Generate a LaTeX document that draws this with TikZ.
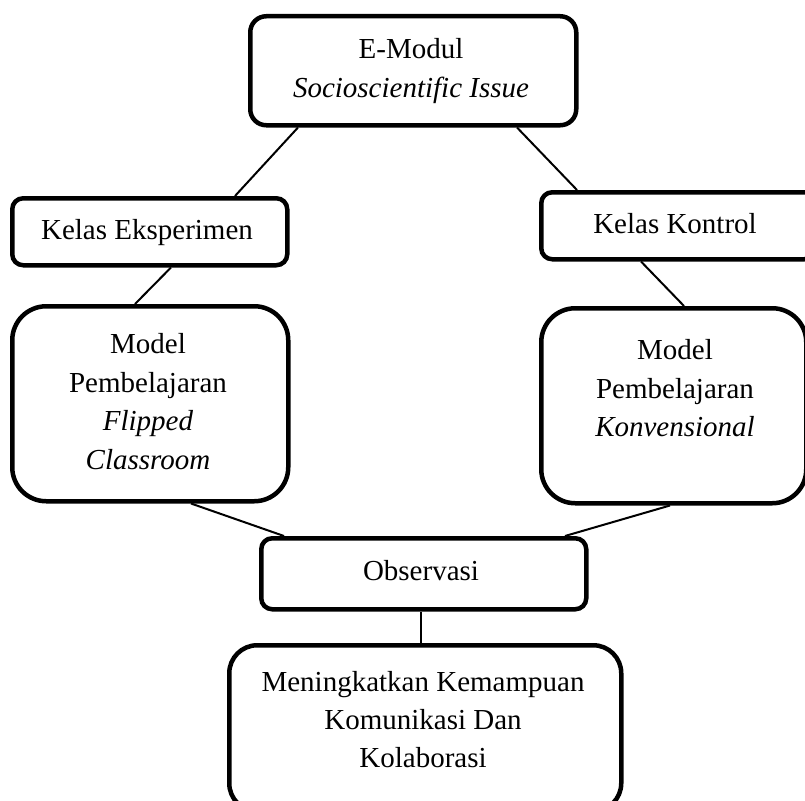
\documentclass[tikz,border=0pt]{standalone}
\usepackage{fontspec}
\setmainfont{Liberation Serif}
\begin{document}
\begin{tikzpicture}[x=1pt,y=-1pt,
  box/.style={draw=black,line width=4.5pt,fill=white,inner sep=0pt,anchor=north west},
  conn/.style={draw=black,line width=2pt},
  lbl/.style={anchor=base,inner sep=0pt,font=\fontsize{29}{38.5}\selectfont}]
\useasboundingbox (0,0) rectangle (805,800);
% boxes
\node[box,rounded corners=16pt,minimum width=326pt,minimum height=109pt] (top) at (248,14) {};
\node[box,rounded corners=11pt,minimum width=275pt,minimum height=67pt] (ke) at (10,196) {};
\node[box,rounded corners=11pt,minimum width=274pt,minimum height=67pt] (kk) at (539,190) {};
\node[box,rounded corners=34pt,minimum width=276pt,minimum height=195pt] (fc) at (10,304) {};
\node[box,rounded corners=34pt,minimum width=265pt,minimum height=195pt] (kv) at (539,306) {};
\node[box,rounded corners=11pt,minimum width=325pt,minimum height=71pt] (ob) at (259,536) {};
\node[box,rounded corners=28pt,minimum width=392pt,minimum height=166pt] (hs) at (227,643) {};
% connectors
\draw[conn] ([xshift=50pt]top.south west) -- ([xshift=225pt]ke.north west);
\draw[conn] ([xshift=269pt]top.south west) -- ([xshift=38pt]kk.north west);
\draw[conn] ([xshift=161pt]ke.south west) -- ([xshift=125pt]fc.north west);
\draw[conn] ([xshift=102pt]kk.south west) -- ([xshift=145pt]kv.north west);
\draw[conn] ([xshift=181pt]fc.south west) -- ([xshift=25pt]ob.north west);
\draw[conn] ([xshift=131pt]kv.south west) -- ([xshift=306pt]ob.north west);
\draw[conn] ([xshift=162pt]ob.south west) -- ([xshift=194pt]hs.north west);
% texts
\node[lbl] (t1) at (411,59) {E-Modul};
\node[lbl] (t2) at (411,97) {\itshape Socioscientific Issue};
\node[lbl] (t3) at (147,239) {Kelas Eksperimen};
\node[lbl] (t4) at (675,233) {Kelas Kontrol};
\node[lbl] (t5) at (148,353) {Model};
\node[lbl] (t6) at (148,392) {Pembelajaran};
\node[lbl] (t7) at (148,430) {\itshape Flipped};
\node[lbl] (t8) at (148,469) {\itshape Classroom};
\node[lbl] (t9) at (675,359) {Model};
\node[lbl] (t10) at (675,398) {Pembelajaran};
\node[lbl] (t11) at (675,436) {\itshape Konvensional};
\node[lbl] (t12) at (421,580) {Observasi};
\node[lbl] (t13) at (423,691) {Meningkatkan Kemampuan};
\node[lbl] (t14) at (423,729) {Komunikasi Dan};
\node[lbl] (t15) at (423,767) {Kolaborasi};
\end{tikzpicture}
\end{document}
